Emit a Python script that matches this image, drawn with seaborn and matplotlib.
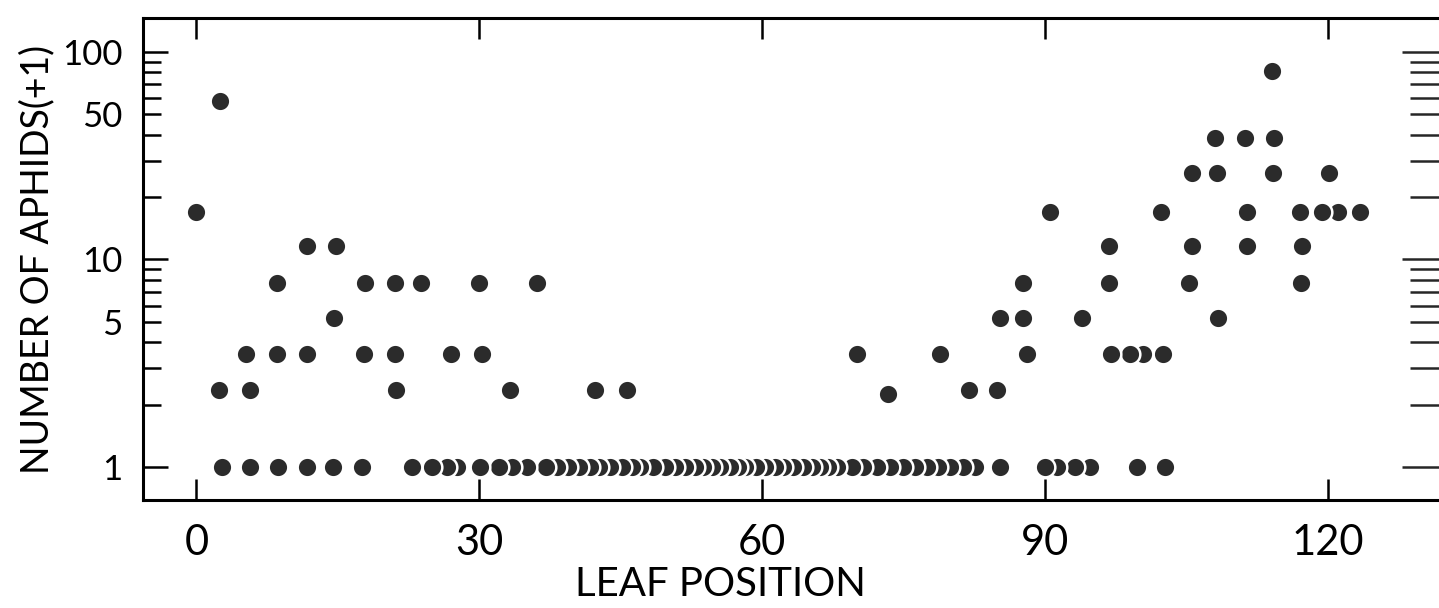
import matplotlib
matplotlib.use("Agg")
import matplotlib.pyplot as plt
import matplotlib.ticker as mticker
import pandas as pd
import seaborn as sns

# ---- data: leaf positions grouped by number of aphids (+1) ----
pos_count_1 = [2.7, 5.7, 8.6, 11.7, 14.5, 17.6, 22.9, 25.0, 26.6, 27.6, 30.1, 32.1,
               33.5, 35.0, 37.1, 38.2, 39.4, 40.6, 41.7, 42.7, 43.8, 45.1, 46.2, 47.0,
               48.4, 49.7, 50.7, 51.8, 52.9, 53.7, 54.7, 55.5, 56.6, 57.4, 58.2, 59.3,
               60.3, 61.3, 62.2, 63.3, 64.3, 65.3, 66.1, 67.0, 67.9, 69.5, 70.7, 72.2,
               73.5, 74.9, 76.2, 77.5, 78.6, 79.9, 81.3, 82.6, 85.2, 90.0, 91.3, 93.2,
               94.8, 99.7, 102.7]
pos_count_2 = [2.4, 5.7, 21.2, 33.2, 42.3, 45.7, 73.3, 81.9, 84.9]
val_count_2 = [2.35, 2.35, 2.35, 2.35, 2.35, 2.35, 2.25, 2.35, 2.35]
pos_count_3 = [5.3, 8.5, 11.7, 17.8, 21.1, 27.0, 30.3, 70.0, 78.8, 88.1, 97.0, 99.0,
               100.4, 102.5]
pos_count_5 = [14.6, 85.2, 87.6, 93.9, 108.3]
pos_count_8 = [8.5, 17.9, 21.1, 23.8, 30.0, 36.1, 87.6, 96.8, 105.3, 117.1]
pos_count_12 = [11.7, 14.8, 96.8, 105.6, 111.4, 117.2]
pos_count_17 = [0.0, 90.5, 102.3, 111.4, 117.0, 119.4, 121.1, 123.4]
pos_count_26 = [105.6, 108.2, 114.2, 120.1]
pos_count_38 = [108.0, 111.2, 114.3]
pos_count_58 = [2.5]
pos_count_81 = [114.1]

x_ticks = [0, 30, 60, 90, 120]
y_major = [1, 10, 100]
y_minor = [2, 3, 4, 5, 6, 7, 8, 9, 20, 30, 40, 50, 60, 70, 80, 90]
y_minor_labeled = [5, 50]

rows = []
rows += [(p, 1.0) for p in pos_count_1]
rows += list(zip(pos_count_2, val_count_2))
rows += [(p, 3.5) for p in pos_count_3]
rows += [(p, 5.2) for p in pos_count_5]
rows += [(p, 7.7) for p in pos_count_8]
rows += [(p, 11.6) for p in pos_count_12]
rows += [(p, 17.0) for p in pos_count_17]
rows += [(p, 26.0) for p in pos_count_26]
rows += [(p, 38.5) for p in pos_count_38]
rows += [(p, 58.0) for p in pos_count_58]
rows += [(p, 81.0) for p in pos_count_81]
df = pd.DataFrame(rows, columns=["leaf", "aphids"])
# draw right-to-left so overlapping dots give the crescent look
df = df.sort_values("leaf", ascending=False).reset_index(drop=True)

sns.set_theme(style="white")
plt.rcParams["font.family"] = ["Lato", "DejaVu Sans"]

fig = plt.figure(figsize=(14.39, 6.08), dpi=100)
ax = fig.add_axes([143 / 1439, 1 - 500 / 608, (1445 - 143) / 1439, (500 - 18) / 608])

sns.scatterplot(data=df, x="leaf", y="aphids", ax=ax, color="#2b2b2b", s=200,
                edgecolor="white", linewidth=1.8, legend=False, zorder=3)

ax.set_yscale("log")
ax.set_xlim(-5.67, 132.4)
ax.set_ylim(0.693, 145.9)

ax.set_xticks(x_ticks)
ax.set_xticklabels([str(t) for t in x_ticks])
ax.tick_params(axis="x", which="major", direction="in", length=15, width=1.8,
               top=True, bottom=True, labelsize=30, pad=17, colors="black")

ax.yaxis.set_major_locator(mticker.FixedLocator(y_major))
ax.yaxis.set_minor_locator(mticker.FixedLocator(y_minor))
ax.yaxis.set_major_formatter(mticker.FuncFormatter(lambda v, p: f"{v:g}"))
ax.yaxis.set_minor_formatter(
    mticker.FuncFormatter(lambda v, p: f"{v:g}" if round(v) in y_minor_labeled else ""))
ax.tick_params(axis="y", which="major", direction="in", length=18, width=1.8,
               left=True, right=False, labelsize=25, pad=15, colors="black")
ax.tick_params(axis="y", which="minor", direction="in", length=13, width=1.8,
               left=True, right=False, labelsize=25, pad=15, colors="black")

ax2 = ax.twinx()
ax2.set_yscale("log")
ax2.set_ylim(ax.get_ylim())
ax2.yaxis.set_major_locator(mticker.FixedLocator(y_major))
ax2.yaxis.set_minor_locator(mticker.FixedLocator(y_minor))
ax2.yaxis.set_major_formatter(mticker.NullFormatter())
ax2.yaxis.set_minor_formatter(mticker.NullFormatter())
ax2.tick_params(axis="y", which="major", direction="in", length=31, width=1.8, right=True)
ax2.tick_params(axis="y", which="minor", direction="in", length=25, width=1.8, right=True)
for s in ax2.spines.values():
    s.set_visible(False)
ax2.grid(False)

for s in ax.spines.values():
    s.set_linewidth(2.2)
    s.set_color("black")
ax.grid(False)

ax.set_xlabel("LEAF POSITION", fontsize=29, color="black")
ax.xaxis.set_label_coords((720 - 143) / 1302, (500 - 566) / 482)
ax.set_ylabel("NUMBER OF APHIDS(+1)", fontsize=27, color="black")
ax.yaxis.set_label_coords((55 - 143) / 1302, 0.5)

fig.savefig("out.png", dpi=100, facecolor="white")
